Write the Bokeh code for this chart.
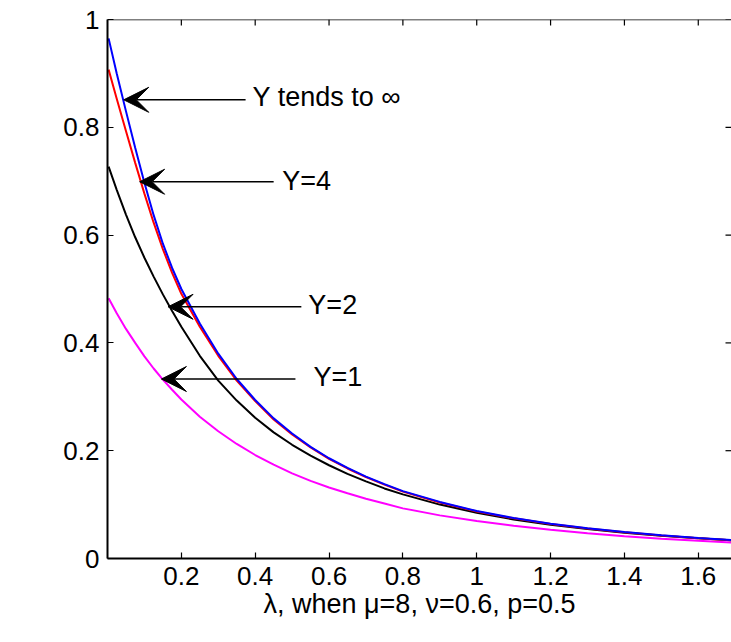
from bokeh.plotting import figure
from bokeh.models import (ColumnDataSource, FixedTicker, Arrow, VeeHead,
                          Label, Range1d, Span)
from bokeh.core.properties import value
from bokeh.embed import file_html
from bokeh.resources import INLINE
import math

# ---- data ----
lam = [0.003, 0.025, 0.05, 0.075, 0.10, 0.125, 0.15, 0.175, 0.20, 0.25,
       0.30, 0.35, 0.40, 0.45, 0.50, 0.55, 0.60, 0.65, 0.70, 0.75, 0.80,
       0.90, 1.00, 1.10, 1.20, 1.30, 1.40, 1.50, 1.60, 1.70]
pd_inf = [0.965, 0.900, 0.830, 0.762, 0.697, 0.637, 0.584, 0.539, 0.500,
          0.436, 0.380, 0.333, 0.294, 0.260, 0.232, 0.207, 0.186, 0.168,
          0.152, 0.138, 0.125, 0.105, 0.088, 0.075, 0.0645, 0.056, 0.049,
          0.043, 0.038, 0.034]
pd_y4 = [0.907, 0.853, 0.793, 0.734, 0.677, 0.623, 0.574, 0.530, 0.491,
         0.430, 0.376, 0.330, 0.292, 0.258, 0.230, 0.206, 0.185, 0.167,
         0.151, 0.137, 0.124, 0.104, 0.0873, 0.0745, 0.064, 0.0555, 0.0485,
         0.0425, 0.0375, 0.0335]
pd_y2 = [0.727, 0.684, 0.638, 0.596, 0.558, 0.523, 0.490, 0.459, 0.430,
         0.376, 0.330, 0.293, 0.261, 0.234, 0.211, 0.191, 0.173, 0.157,
         0.143, 0.130, 0.119, 0.100, 0.085, 0.0725, 0.0625, 0.0545, 0.0478,
         0.0422, 0.0374, 0.0332]
pd_y1 = [0.483, 0.455, 0.426, 0.400, 0.375, 0.3525, 0.332, 0.313, 0.295,
         0.263, 0.236, 0.2125, 0.192, 0.174, 0.158, 0.144, 0.1318, 0.121,
         0.111, 0.102, 0.093, 0.080, 0.0695, 0.0606, 0.0532, 0.0468, 0.0414,
         0.0368, 0.0329, 0.0295]

x_min, x_max = 0.0, 1.69
y_min, y_max = 0.0, 1.0
x_ticks = [0.2, 0.4, 0.6, 0.8, 1.0, 1.2, 1.4, 1.6]
x_tick_labels = ["0.2", "0.4", "0.6", "0.8", "1", "1.2", "1.4", "1.6"]
y_ticks = [0.0, 0.2, 0.4, 0.6, 0.8, 1.0]
y_tick_labels = ["0", "0.2", "0.4", "0.6", "0.8", "1"]

ann_text = ["Y tends to \u221e", "Y=4", "Y=2", "Y=1"]
ann_text_x = [0.393, 0.473, 0.544, 0.558]
ann_text_y = [0.857, 0.701, 0.471, 0.337]
arrow_tail_x = [0.374, 0.450, 0.525, 0.509]
arrow_tip_x = [0.044, 0.087, 0.164, 0.146]
arrow_y = [0.851, 0.699, 0.467, 0.333]

x_label = "\u03bb, when \u03bc=8, \u03bd=0.6, p=0.5"

FONT = "Liberation Sans"
FS = "26px"
FS_TXT = "27px"
TICK = 6

p = figure(frame_width=624, frame_height=539,
           x_range=Range1d(x_min, x_max), y_range=Range1d(y_min, y_max),
           output_backend="svg", toolbar_location=None,
           min_border_left=107, min_border_right=0,
           min_border_top=19, min_border_bottom=78)
p.grid.visible = False
p.outline_line_color = None
p.background_fill_color = "white"
p.border_fill_color = "white"

# bottom axis
xa = p.xaxis[0]
xa.ticker = FixedTicker(ticks=x_ticks)
xa.major_label_overrides = {t: s for t, s in zip(x_ticks, x_tick_labels)}
xa.axis_label = x_label
xa.axis_label_text_font = FONT
xa.axis_label_text_font_size = FS_TXT
xa.axis_label_text_font_style = "normal"
xa.axis_label_text_color = "black"
xa.axis_label_standoff = 1
xa.major_label_text_font = FONT
xa.major_label_text_font_size = FS
xa.major_label_text_color = "black"
xa.major_label_standoff = 8
xa.major_tick_in = TICK
xa.major_tick_out = 0
xa.minor_tick_line_color = None
xa.axis_line_width = 2
xa.major_tick_line_width = 1.2

# left axis
ya = p.yaxis[0]
ya.ticker = FixedTicker(ticks=y_ticks)
ya.major_label_overrides = {t: s for t, s in zip(y_ticks, y_tick_labels)}
ya.major_label_text_font = FONT
ya.major_label_text_font_size = FS
ya.major_label_text_color = "black"
ya.major_label_standoff = 8
ya.major_tick_in = TICK
ya.major_tick_out = 0
ya.minor_tick_line_color = None
ya.axis_line_width = 2
ya.major_tick_line_width = 1.2

# top box edge with inward ticks, right-side inward ticks
p.add_layout(Span(location=y_max, dimension="width", line_color="black",
                  line_width=1.5))
p.ray(x=x_ticks, y=[y_max] * len(x_ticks), length=TICK,
      length_units="screen", angle=-math.pi / 2, line_color="black",
      line_width=1.2)
p.ray(x=[x_max] * len(y_ticks), y=y_ticks, length=TICK,
      length_units="screen", angle=math.pi, line_color="black",
      line_width=1.2)

# curves
p.line(lam, pd_y1, line_color="#ff00ff", line_width=2)
p.line(lam, pd_y2, line_color="black", line_width=2)
p.line(lam, pd_y4, line_color="#ff0000", line_width=2)
p.line(lam, pd_inf, line_color="#0000ff", line_width=2)

# arrows
arr_src = ColumnDataSource(dict(x0=arrow_tail_x, x1=arrow_tip_x,
                                y0=arrow_y, y1=arrow_y))
p.add_layout(Arrow(source=arr_src, x_start="x0", y_start="y0",
                   x_end="x1", y_end="y1", line_width=1.5,
                   line_color="black",
                   end=VeeHead(size=25, fill_color="black",
                               line_color="black", line_width=1)))

txt_src = ColumnDataSource(dict(x=ann_text_x, y=ann_text_y, t=ann_text))
p.text(x="x", y="y", text="t", source=txt_src,
       text_font=value(FONT), text_font_size=FS_TXT,
       text_align="left", text_baseline="middle", text_color="black")

# y-axis label P_D
p.add_layout(Label(x=-0.236, y=0.488, text="P", angle=math.pi / 2,
                   text_font=FONT, text_font_size=FS_TXT,
                   text_color="black",
                   text_align="center", text_baseline="middle"))
p.add_layout(Label(x=-0.198, y=0.522, text="D", angle=math.pi / 2,
                   text_font=FONT, text_font_size="22px",
                   text_color="black",
                   text_align="center", text_baseline="middle"))

open("out.html", "w").write(file_html(p, INLINE, "plot"))
